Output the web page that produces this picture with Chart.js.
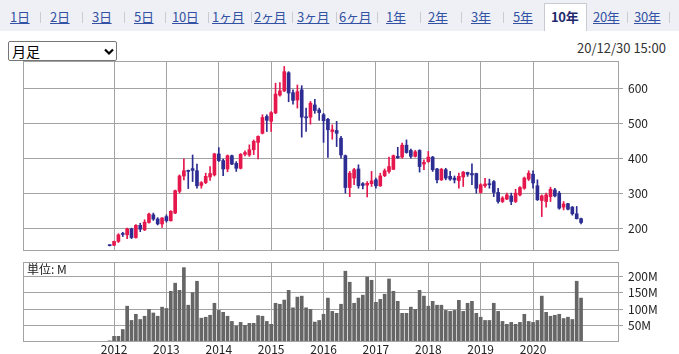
<!DOCTYPE html>
<html><head><meta charset="utf-8">
<script src="https://cdn.jsdelivr.net/npm/chart.js@4.4.1/dist/chart.umd.min.js"></script>
<style>
html,body{margin:0;padding:0;background:#fff}
body{width:679px;height:354px;overflow:hidden;position:relative;font-family:"Noto Sans CJK JP","Noto Sans",sans-serif}
#tabbar{position:absolute;left:0;top:0;width:679px;height:31px;background:#eef0f5}
.tab{position:absolute;top:7px;font-size:13px;line-height:20px;color:#3352a3;text-decoration:underline;white-space:nowrap;letter-spacing:-0.3px}
.sep{position:absolute;top:12px;width:1px;height:11px;background:#c9cbd3}
#active{position:absolute;left:544px;top:3px;width:43px;height:28px;background:#fff;border:1px solid #c9cbd3;border-bottom:none;box-sizing:border-box}
#active span{position:absolute;left:6px;top:3px;font-size:13px;line-height:20px;font-weight:bold;color:#1f2a6e;white-space:nowrap;letter-spacing:-0.3px}
#sel{position:absolute;left:8px;top:41px;width:109px;height:20px;border:1px solid #767676;border-radius:2px;box-sizing:border-box;background:#fff}
#sel span{position:absolute;left:3px;top:-1px;font-size:14px;line-height:20px;color:#000}
#sel svg{position:absolute;left:94px;top:6px}
#stamp{position:absolute;left:577px;top:39px;font-size:13px;line-height:18px;color:#333;white-space:nowrap}
#unit{position:absolute;left:27px;top:261px;font-size:12px;line-height:16px;color:#222;white-space:nowrap}
#pc{position:absolute;left:0;top:41px}
#vc{position:absolute;left:0;top:242px}
</style>
</head><body>
<div id="tabbar"></div>
<div id="tabs"></div>
<div id="sel"><span>月足</span><svg width="12" height="8" viewBox="0 0 12 8"><polyline points="2,1.5 6,5.5 10,1.5" fill="none" stroke="#000" stroke-width="2.2"/></svg></div>
<div id="stamp">20/12/30 15:00</div>
<canvas id="pc" width="679" height="229"></canvas>
<canvas id="vc" width="679" height="132"></canvas>
<div id="unit">単位: M</div>
<script>
// ---- page chrome (tabs) ----
const tabNames = ['1日','2日','3日','5日','10日','1ヶ月','2ヶ月','3ヶ月','6ヶ月','1年','2年','3年','5年','10年','20年','30年'];
const tabLeft  = [10,50,92,134,172,212,254,297,339,386,428,471,513,551,593,634];
const sepLeft  = [40,82,124,165,208,251,292,336,377,420,461,503,627,669];
const activeTab = '10年';

// ---- chart data ----
const months = ['2011/12',
 '2012/01','2012/02','2012/03','2012/04','2012/05','2012/06','2012/07','2012/08','2012/09','2012/10','2012/11','2012/12',
 '2013/01','2013/02','2013/03','2013/04','2013/05','2013/06','2013/07','2013/08','2013/09','2013/10','2013/11','2013/12',
 '2014/01','2014/02','2014/03','2014/04','2014/05','2014/06','2014/07','2014/08','2014/09','2014/10','2014/11','2014/12',
 '2015/01','2015/02','2015/03','2015/04','2015/05','2015/06','2015/07','2015/08','2015/09','2015/10','2015/11','2015/12',
 '2016/01','2016/02','2016/03','2016/04','2016/05','2016/06','2016/07','2016/08','2016/09','2016/10','2016/11','2016/12',
 '2017/01','2017/02','2017/03','2017/04','2017/05','2017/06','2017/07','2017/08','2017/09','2017/10','2017/11','2017/12',
 '2018/01','2018/02','2018/03','2018/04','2018/05','2018/06','2018/07','2018/08','2018/09','2018/10','2018/11','2018/12',
 '2019/01','2019/02','2019/03','2019/04','2019/05','2019/06','2019/07','2019/08','2019/09','2019/10','2019/11','2019/12',
 '2020/01','2020/02','2020/03','2020/04','2020/05','2020/06','2020/07','2020/08','2020/09','2020/10','2020/11','2020/12'];

const openP = [151,
 151,162,184,181,198,173,208,195,216,238,226,212,
 233,221,243,305,349,365,370,364,322,330,346,352,
 412,393,369,407,385,371,411,409,424,445,471,519,
 505,529,580,592,644,587,566,595,518,517,552,538,
 524,511,476,479,457,407,316,343,369,327,323,327,
 338,321,350,362,368,405,403,437,422,405,422,383,
 390,403,369,338,367,348,343,336,346,359,356,356,
 302,321,327,333,302,276,283,292,276,295,314,340,
 354,321,279,276,290,309,300,260,270,260,241,227];
const highP = [152,
 163,184,188,200,200,210,214,224,243,243,230,230,
 238,250,309,352,398,366,409,383,333,357,376,414,
 430,397,409,409,390,413,421,438,452,464,524,524,
 533,614,616,662,647,595,609,607,543,562,568,543,
 528,514,495,505,462,409,362,371,381,330,333,362,
 343,357,369,403,409,431,443,452,426,422,424,395,
 419,405,371,371,371,362,349,357,362,360,384,357,
 327,342,340,336,314,290,300,300,311,319,346,364,
 364,338,295,300,317,314,305,276,271,262,262,229];
const lowP = [149,
 150,159,176,170,170,171,190,193,214,222,209,202,
 217,220,241,300,338,313,333,314,314,327,336,349,
 390,350,361,381,362,369,406,405,410,398,469,476,
 476,527,577,590,561,554,543,460,476,497,528,508,
 445,402,454,433,400,300,290,324,314,312,289,319,
 314,319,347,357,367,399,400,414,400,403,360,367,
 388,362,329,336,338,336,329,314,319,348,324,300,
 300,316,314,290,271,273,281,267,273,292,311,336,
 314,279,233,260,276,289,254,252,252,237,226,212];
const closeP = [150,
 162,181,182,198,173,208,197,217,240,226,212,229,
 221,248,307,349,364,362,365,321,330,348,356,412,
 393,369,407,383,371,411,416,424,448,462,516,508,
 530,583,592,647,586,565,590,517,515,557,536,530,
 507,481,481,471,409,316,357,367,321,322,328,335,
 321,349,364,376,407,401,437,416,405,418,376,388,
 403,367,338,368,343,340,338,348,360,354,352,314,
 324,326,324,302,276,286,295,276,300,316,343,357,
 329,281,292,295,311,292,257,269,254,241,227,216];
const volumeM = [2,
 16,16,37,109,65,84,68,78,99,88,78,106,
 102,155,180,158,228,112,151,186,72,75,81,118,
 96,90,78,62,48,59,50,56,56,80,78,62,
 53,118,115,128,158,104,137,140,104,99,60,65,
 84,134,93,87,115,217,183,118,134,143,199,189,
 121,130,146,193,155,124,87,87,106,99,158,140,
 109,124,112,112,96,93,96,127,93,118,124,87,
 75,65,65,118,93,62,53,59,53,59,84,62,
 59,65,140,90,78,81,84,71,75,68,186,134];
const yearLabels = ['2012','2013','2014','2015','2016','2017','2018','2019','2020'];
const priceTicks = [200,300,400,500,600];
const volumeTicks = [50,100,150,200];

// ---- build page tabs ----
const tabsEl = document.getElementById('tabs');
tabNames.forEach((t,i)=>{
  if (t===activeTab){
    const d=document.createElement('div'); d.id='active';
    const s=document.createElement('span'); s.textContent=t; d.appendChild(s);
    tabsEl.appendChild(d);
  } else {
    const a=document.createElement('div'); a.className='tab'; a.style.left=tabLeft[i]+'px'; a.textContent=t; tabsEl.appendChild(a);
  }
});
sepLeft.forEach(x=>{const s=document.createElement('div'); s.className='sep'; s.style.left=x+'px'; tabsEl.appendChild(s);});

// ---- charts ----
const UP='#e5174c', DOWN='#2c2c92', GRID='#a3a3a3', VOL='#666666';
Chart.defaults.font.family='"Noto Sans CJK JP","Noto Sans",sans-serif';
Chart.defaults.font.size=12;
Chart.defaults.color='#333';

const monthIndex = months.map(m=>{const [y,mo]=m.split('/').map(Number); return (y-2012)*12+(mo-1);});
const yearIndex = yearLabels.map(y=>(Number(y)-2012)*12);
const X_MIN=-20.861, X_MAX=115.463;
const isUp = openP.map((o,i)=>closeP[i]>=o);
const colors = isUp.map(u=>u?UP:DOWN);

const frame={id:'frame',afterDraw(c){const a=c.chartArea,ctx=c.ctx;ctx.save();ctx.strokeStyle=GRID;ctx.lineWidth=1;
  ctx.strokeRect(Math.round(a.left)+0.5,Math.round(a.top)+0.5,Math.round(a.right-a.left),Math.round(a.bottom-a.top));ctx.restore();}};

const xCommon = (showLabels)=>({
  type:'linear', min:X_MIN, max:X_MAX, offset:false,
  grid:{color:GRID,drawTicks:false,lineWidth:1,offset:false},
  border:{display:false},
  ticks:{display:showLabels,autoSkip:false,maxRotation:0,padding:1,color:'#222',font:{size:12},
    callback:(v,i)=>yearLabels[i]},
  afterBuildTicks:s=>{s.ticks=yearIndex.map(v=>({value:v}));},
  afterFit:s=>{s.height=showLabels?13:0;}
});

new Chart(document.getElementById('pc'),{
  type:'bar',
  data:{datasets:[
    {data:monthIndex.map((x,i)=>({x,y:[openP[i],closeP[i]]})),backgroundColor:colors,barThickness:3,minBarLength:1,grouped:false},
    {data:monthIndex.map((x,i)=>({x,y:[lowP[i],highP[i]]})),backgroundColor:colors,barThickness:1,grouped:false}
  ]},
  options:{responsive:false,animation:false,devicePixelRatio:1,
    layout:{padding:{left:23,top:20,right:0,bottom:20}},
    plugins:{legend:{display:false},tooltip:{enabled:false}},
    scales:{
      x:xCommon(false),
      y:{position:'right',min:137.5,max:677.5,
        grid:{color:GRID,tickLength:5},border:{display:false},
        ticks:{padding:5,color:'#222',font:{size:12}},
        afterBuildTicks:s=>{s.ticks=priceTicks.map(v=>({value:v}));},
        afterFit:s=>{s.width=61;}}
    }},
  plugins:[frame]
});

new Chart(document.getElementById('vc'),{
  type:'bar',
  data:{datasets:[
    {data:monthIndex.map((x,i)=>({x,y:volumeM[i]})),backgroundColor:VOL,barThickness:3}
  ]},
  options:{responsive:false,animation:false,devicePixelRatio:1,
    layout:{padding:{left:23,top:20,right:0,bottom:20}},
    plugins:{legend:{display:false},tooltip:{enabled:false}},
    scales:{
      x:xCommon(true),
      y:{position:'right',min:1.54,max:245.4,
        grid:{color:GRID,tickLength:5},border:{display:false},
        ticks:{padding:5,color:'#222',font:{size:12},callback:v=>v+'M'},
        afterBuildTicks:s=>{s.ticks=volumeTicks.map(v=>({value:v}));},
        afterFit:s=>{s.width=61;}}
    }},
  plugins:[frame]
});
</script>
</body></html>
